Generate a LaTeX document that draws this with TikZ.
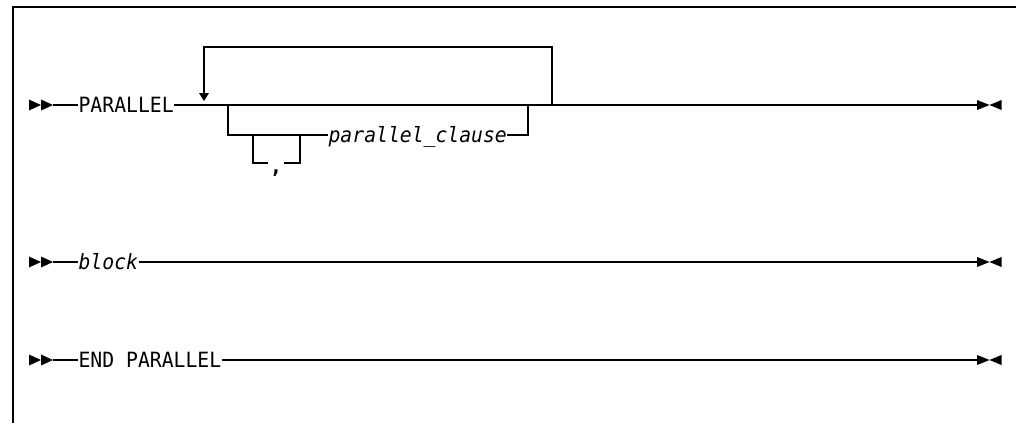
\documentclass[tikz,border=0pt]{standalone}
\usepackage{fontspec}
\newfontfamily\rrfont[FakeStretch=0.94]{DejaVu Sans Mono}
\tikzset{
  txt/.style={inner xsep=0pt, inner ysep=0pt, text height=17pt, text depth=1.7pt,
    font=\rrfont\fontsize{21}{24}\selectfont, anchor=west},
  itxt/.style={txt, font=\rrfont\itshape\fontsize{21}{24}\selectfont},
  startpair/.pic={\fill (-24,-5.5) -- (-12,0) -- (-24,5.5) -- cycle;
                  \fill (-12,-5.5) -- (0,0) -- (-12,5.5) -- cycle;},
  endpair/.pic={\fill (0,-5) -- (12.5,0) -- (0,5) -- cycle;
                \fill (24.5,-5) -- (12.5,0) -- (24.5,5) -- cycle;}
}
\begin{document}
\begin{tikzpicture}[x=1pt,y=-1pt,line width=1.2pt]
\useasboundingbox (0,0) rectangle (1016,423);
% frame
\draw[line width=1.4pt] (13,423) -- (13,7) -- (1016,7);

% row 1
\coordinate (s1) at (53,105);
\coordinate (e1) at (977,105);
\pic at (s1) {startpair};
\pic at (e1) {endpair};
\node[txt] (par) at (78,105) {PARALLEL};
\draw (s1) -- (par.west);
\draw (par.east) -- (e1);
% repeat loop
\coordinate (lr) at (552,105);
\coordinate (ll) at (204,93);
\draw (lr) -- (552,47) -| (ll);
\fill (204,101) -- (199,93) -- (209,93) -- cycle;
% optional branch
\coordinate (bl) at (228,105);
\coordinate (br) at (528,105);
\node[itxt] (pc) at (328,135) {parallel\_clause};
\draw (bl) |- (pc.west);
\draw (pc.east) -| (br);
% comma separator
\coordinate (cl) at (253,135);
\coordinate (cr) at (300,135);
\node[txt, anchor=center, inner xsep=1.5pt, text height=21pt, text depth=1pt,
  font=\rrfont\bfseries\fontsize{21}{24}\selectfont] (cm) at (276,163) {,};
\draw (cl) |- (cm.west);
\draw (cm.east) -| (cr);

% row 2
\coordinate (s2) at (53,262);
\coordinate (e2) at (977,262);
\pic at (s2) {startpair};
\pic at (e2) {endpair};
\node[itxt] (blk) at (78,262) {block};
\draw (s2) -- (blk.west);
\draw (blk.east) -- (e2);

% row 3
\coordinate (s3) at (53,360);
\coordinate (e3) at (977,360);
\pic at (s3) {startpair};
\pic at (e3) {endpair};
\node[txt] (endp) at (78,360) {END PARALLEL};
\draw (s3) -- (endp.west);
\draw (endp.east) -- (e3);
\end{tikzpicture}
\end{document}
